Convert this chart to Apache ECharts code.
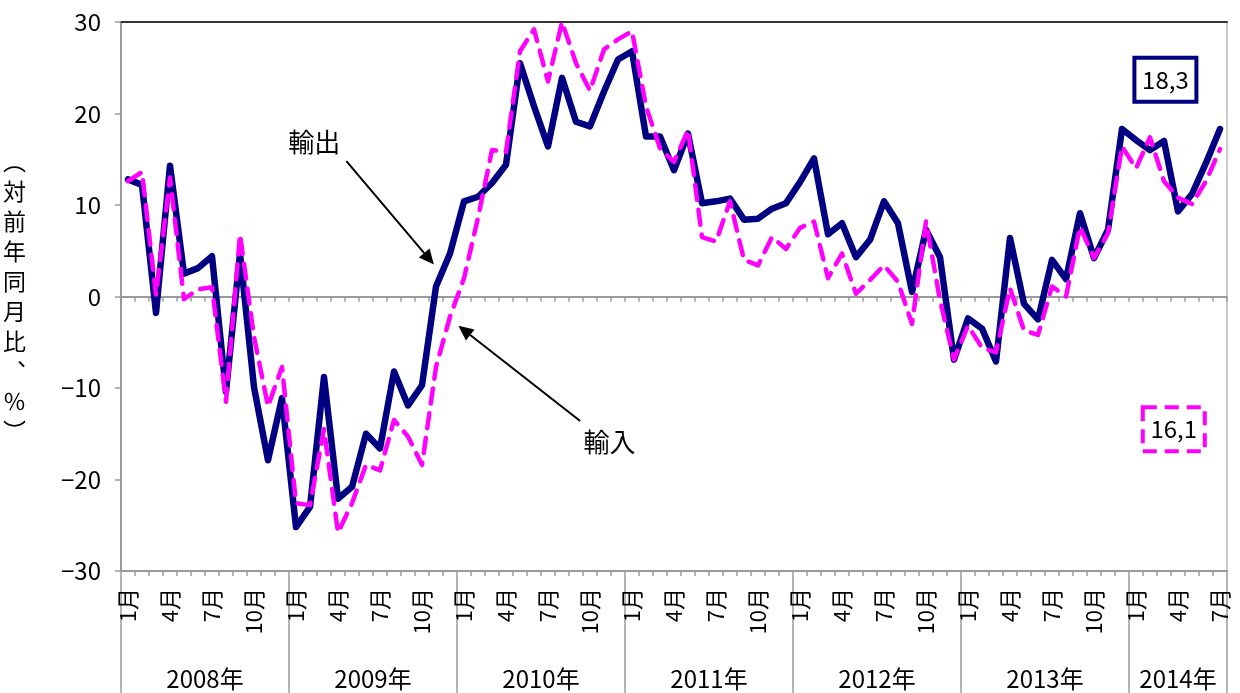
<!DOCTYPE html>
<html>
<head>
<meta charset="utf-8">
<script src="https://cdn.jsdelivr.net/npm/echarts@6/dist/echarts.min.js"></script>
<style>
  html, body { margin: 0; padding: 0; background: #fff; }
  #chart { width: 1240px; height: 693px; }
</style>
</head>
<body>
<div id="chart"></div>
<script>
// Year-on-year change of exports and imports, %, monthly Jan 2008 – Jul 2014
const years = ['2008年', '2009年', '2010年', '2011年', '2012年', '2013年', '2014年'];
const monthsPerYear = [12, 12, 12, 12, 12, 12, 7];
const monthNames = ['1月','2月','3月','4月','5月','6月','7月','8月','9月','10月','11月','12月'];

const exportsYoY = [
  12.8, 12.2, -1.8, 14.3, 2.5, 3.1, 4.4, -10.4, 4.7, -9.9, -17.9, -11.1,
  -25.2, -23.0, -8.8, -22.1, -20.8, -15.0, -16.6, -8.2, -11.9, -9.7, 1.1, 4.7,
  10.4, 10.9, 12.4, 14.4, 25.5, 20.8, 16.4, 23.9, 19.1, 18.6, 22.4, 25.9,
  26.8, 17.5, 17.5, 13.8, 17.8, 10.2, 10.4, 10.7, 8.4, 8.5, 9.6, 10.2,
  12.5, 15.1, 6.8, 8.0, 4.3, 6.2, 10.4, 8.0, 0.5, 7.3, 4.3, -6.9,
  -2.4, -3.5, -7.1, 6.4, -0.8, -2.5, 4.0, 1.9, 9.1, 4.2, 7.3, 18.3,
  17.1, 16.0, 17.0, 9.3, 11.2, 14.6, 18.3
];
const importsYoY = [
  12.6, 13.6, 0.2, 13.0, -0.3, 0.8, 1.0, -11.5, 6.8, -4.4, -12.0, -7.7,
  -22.6, -22.8, -14.5, -25.8, -22.6, -18.4, -19.0, -13.5, -15.3, -18.4, -7.7, -2.2,
  2.0, 8.6, 16.0, 15.8, 26.8, 29.2, 23.5, 30.0, 25.5, 22.5, 27.0, 28.1,
  29.0, 20.8, 16.2, 14.7, 18.2, 6.5, 6.0, 10.4, 4.0, 3.4, 6.5, 5.2,
  7.5, 8.2, 2.0, 4.7, 0.3, 1.8, 3.4, 1.6, -3.0, 8.2, -0.4, -6.9,
  -3.2, -5.6, -6.1, 0.9, -3.7, -4.2, 1.1, 0.0, 7.6, 4.2, 6.9, 16.4,
  14.0, 17.4, 12.6, 10.8, 10.1, 12.6, 16.1
];
const yTicks = { min: -30, max: 30, interval: 10 };
const yAxisTitle = ['︵', '対', '前', '年', '同', '月', '比', '︑', '％', '︶'];
const exportName = '輸出';
const importName = '輸入';

// Category list and year boundaries derived from the month counts
const categories = [];
const yearBounds = [0];
const yearCenters = [];
monthsPerYear.forEach((n) => {
  for (let m = 0; m < n; m++) categories.push(monthNames[m]);
  const start = yearBounds[yearBounds.length - 1];
  yearCenters.push(start + n / 2);
  yearBounds.push(start + n);
});
const total = categories.length;

const FONT = '"Noto Sans CJK JP", "Noto Sans", sans-serif';
const GRAY = '#9a9a9a';
const NAVY = '#000080';
const MAGENTA = '#ff00ff';

const fmtComma = v => v.toFixed(1).replace('.', ',');

const chart = echarts.init(document.getElementById('chart'), null, { renderer: 'canvas' });

const option = {
  animation: false,
  backgroundColor: '#fff',
  textStyle: { fontFamily: FONT },
  grid: {
    left: 115, right: 13, top: 22, bottom: 122,
    show: true, borderColor: GRAY, borderWidth: 1, containLabel: false
  },
  xAxis: [
    { // axis line through zero
      type: 'category', data: categories, boundaryGap: true, position: 'bottom',
      axisLine: { onZero: true, lineStyle: { color: GRAY, width: 2 } },
      axisTick: { show: true, interval: 0, length: 5, lineStyle: { color: GRAY, width: 1.5 } },
      axisLabel: { show: false }, splitLine: { show: false }
    },
    { // bottom axis with month labels
      type: 'category', data: categories, boundaryGap: true, position: 'bottom',
      axisLine: { onZero: false, lineStyle: { color: GRAY, width: 2 } },
      axisTick: { show: true, interval: 0, length: 5, lineStyle: { color: GRAY, width: 1.5 } },
      axisLabel: {
        interval: (i) => (i % 12) % 3 === 0,
        rotate: 90, margin: 17, color: '#000', fontSize: 22, fontFamily: FONT
      },
      splitLine: { show: false }
    },
    { // year separators and year labels
      type: 'value', min: 0, max: total, position: 'bottom',
      axisLine: { show: false, onZero: false },
      axisTick: {
        show: true, customValues: yearBounds, length: 122, inside: false,
        lineStyle: { color: GRAY, width: 1.5 }
      },
      axisLabel: {
        show: true, customValues: yearCenters, margin: 96, color: '#000', fontSize: 24,
        fontFamily: FONT,
        formatter: (v) => {
          const k = yearCenters.findIndex(c => Math.abs(c - v) < 1e-6);
          return k >= 0 ? years[k] : '';
        }
      },
      splitLine: { show: false }
    },
    { // top border
      type: 'category', data: categories, position: 'top',
      axisLine: { onZero: false, lineStyle: { color: '#333', width: 2 } },
      axisTick: { show: false }, axisLabel: { show: false }, splitLine: { show: false }
    }
  ],
  yAxis: {
    type: 'value', min: yTicks.min, max: yTicks.max, interval: yTicks.interval,
    axisLine: { show: true, onZero: false, lineStyle: { color: GRAY, width: 2 } },
    axisTick: { show: true, length: 6, lineStyle: { color: GRAY, width: 1.5 } },
    axisLabel: {
      color: '#000', fontSize: 24, margin: 20, fontFamily: FONT,
      formatter: v => (v < 0 ? '−' + Math.abs(v) : String(v))
    },
    splitLine: { show: false },
    name: yAxisTitle.join('\n'),
    nameLocation: 'middle', nameRotate: 0, nameGap: 95,
    nameTextStyle: { color: '#000', fontSize: 23, lineHeight: 30, fontFamily: FONT }
  },
  series: [
    {
      name: exportName, type: 'line', xAxisIndex: 1, data: exportsYoY,
      symbol: 'none', smooth: false,
      lineStyle: { color: NAVY, width: 6.5, join: 'round', cap: 'round' }, z: 2
    },
    {
      name: importName, type: 'line', xAxisIndex: 1, data: importsYoY,
      symbol: 'none', smooth: false,
      lineStyle: { color: MAGENTA, width: 4.5, type: [15, 10], join: 'round', cap: 'round' }, z: 3
    }
  ]
};
chart.setOption(option);

// Annotations placed in data space (month position, % value)
function px(xv, v) {
  return chart.convertToPixel({ xAxisIndex: 2, yAxisIndex: 0 }, [xv, v]);
}
function arrow(from, to) {
  const a = px(from[0], from[1]);
  const b = px(to[0], to[1]);
  const dx = b[0] - a[0], dy = b[1] - a[1];
  const len = Math.hypot(dx, dy);
  const ux = dx / len, uy = dy / len;
  const headL = 15, headW = 7;
  const base = [b[0] - ux * headL, b[1] - uy * headL];
  return [
    { type: 'line', shape: { x1: a[0], y1: a[1], x2: base[0], y2: base[1] },
      style: { stroke: '#000', lineWidth: 2 }, z: 10 },
    { type: 'polygon', shape: { points: [
        b,
        [base[0] - uy * headW, base[1] + ux * headW],
        [base[0] + uy * headW, base[1] - ux * headW]
      ] }, style: { fill: '#000' }, z: 10 }
  ];
}
function label(xv, v, text) {
  const p = px(xv, v);
  return { type: 'text', x: p[0], y: p[1], z: 10,
    style: { text, fill: '#000', font: '26px ' + FONT, align: 'center', verticalAlign: 'middle' } };
}
function valueBox(xv, v, text, stroke, dash) {
  const p = px(xv, v);
  const w = 62, h = 44;
  return [
    { type: 'rect', shape: { x: p[0] - w / 2, y: p[1] - h / 2, width: w, height: h },
      style: { fill: '#fff', stroke, lineWidth: 4, lineDash: dash }, z: 10 },
    { type: 'text', x: p[0], y: p[1], z: 11,
      style: { text, fill: '#000', font: '24px ' + FONT, align: 'center', verticalAlign: 'middle' } }
  ];
}

const lastExport = exportsYoY[exportsYoY.length - 1];
const lastImport = importsYoY[importsYoY.length - 1];

chart.setOption({
  graphic: [
    label(13.8, 16.9, exportName),
    ...arrow([16.1, 14.8], [22.35, 3.5]),
    label(34.9, -15.9, importName),
    ...arrow([32.8, -13.6], [24.1, -3.2]),
    ...valueBox(74.6, 23.7, fmtComma(lastExport), NAVY, null),
    ...valueBox(75.2, -14.5, fmtComma(lastImport), MAGENTA, [14, 8])
  ]
});
</script>
</body>
</html>
